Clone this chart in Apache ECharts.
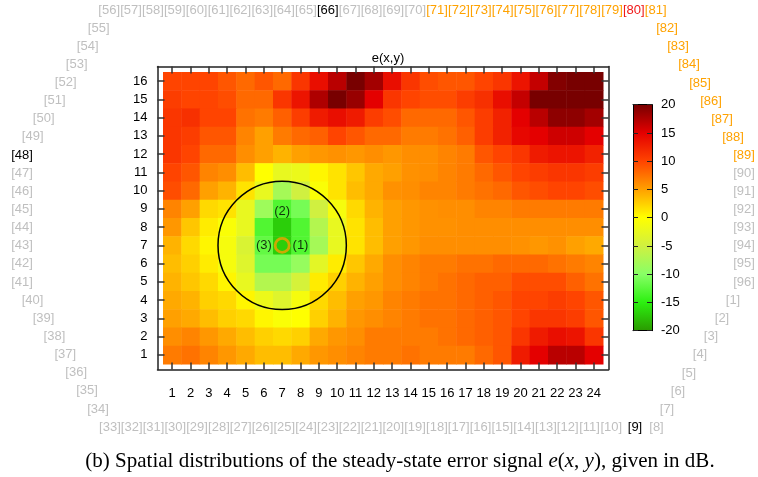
<!DOCTYPE html>
<html>
<head>
<meta charset="utf-8">
<script src="https://cdn.jsdelivr.net/npm/echarts@6/dist/echarts.min.js"></script>
<style>
  html, body { margin: 0; padding: 0; background: #fff; }
  #chart { width: 758px; height: 477px; }
</style>
</head>
<body>
<div id="chart"></div>
<script>
// tick labels
const xTicks = [1, 2, 3, 4, 5, 6, 7, 8, 9, 10, 11, 12, 13, 14, 15, 16, 17, 18, 19, 20, 21, 22, 23, 24];
const yTicks = [1, 2, 3, 4, 5, 6, 7, 8, 9, 10, 11, 12, 13, 14, 15, 16];

// e(x,y) in dB, rows listed from y = 16 (top) down to y = 1
const errorRows = [
  [10, 10, 10, 9, 8, 9, 8, 11, 14, 17, 20, 18, 14, 11, 9.5, 9, 9, 10, 11, 13.5, 16.5, 19.5, 20, 20],
  [10.5, 10, 10, 9.5, 8, 8, 11, 13.5, 17.5, 20, 18.5, 15, 11, 10, 9.5, 9.5, 10.5, 11.5, 14, 16.5, 20, 20, 20, 20],
  [11, 11.5, 10, 10, 7.5, 7, 8.5, 10.5, 13, 14, 13, 10.5, 9.5, 8, 8, 8, 9, 10.5, 12.5, 15, 17, 19, 19, 18],
  [11, 10.5, 9, 9, 6.5, 5, 7, 8, 8.5, 10, 9, 8, 8, 7, 7, 7.5, 8.5, 10.5, 12.5, 14.5, 15, 16, 16, 15],
  [11, 10, 8, 8, 6, 5, 4, 5, 5.5, 5.8, 5.5, 6, 5.5, 6, 6, 6.5, 7, 9, 10, 11, 13, 13.5, 13.5, 12.5],
  [10, 9, 6.5, 6, 3.5, 0, -2.5, -2, 0.5, 1.5, 3, 4.5, 5, 5.8, 6, 6.5, 7, 8, 9, 10, 10.5, 11, 11, 10.5],
  [9.5, 8, 5, 4, 1.5, -2.5, -8, -5, -0.5, 1.5, 3.5, 4.5, 5.8, 6, 6.5, 6.5, 7, 7.5, 8, 9, 9.5, 10, 10, 9.5],
  [6.5, 5, 2, 1.5, -2.5, -8.5, -13, -11, -5, -1, 2, 4, 5, 5.5, 5.8, 6, 6, 6.5, 6.5, 7, 7, 7, 7, 7],
  [5.5, 3, 1, -0.5, -2.5, -13, -17, -13, -7, -2.5, 1.5, 3.5, 5, 5.5, 5.8, 5.8, 6, 6, 6, 6, 6, 6, 6, 6],
  [4, 2, 0.5, -1, -4, -12, -17, -13, -8, -2.5, 1.5, 3.5, 5, 5.5, 6, 6, 6, 6, 6, 5.8, 5.5, 5.8, 5, 4.5],
  [3.5, 2.5, 1, -1, -3.5, -11, -11, -9, -3, 1, 3, 4.5, 6, 6.5, 7, 7, 7.5, 7.5, 8, 8, 8, 7.5, 7, 6.5],
  [4, 3, 2, 0.5, -2.5, -7, -7, -4.5, 1, 2.5, 4, 5, 6, 6.5, 7, 7.5, 8, 8.5, 8.5, 9.5, 9.5, 9.5, 8.5, 7.5],
  [4.5, 4, 2.5, 2, 0.5, -2, -3.5, -1, 2, 3.5, 5, 5.5, 6.5, 7, 7.5, 7.5, 8, 8.5, 9, 10, 10, 10.5, 10, 9],
  [5, 4.5, 3.5, 2.5, 2, 0.5, -0.5, 0, 2.5, 4, 5.5, 6, 6.5, 7, 7.5, 7.5, 8, 8.5, 9, 10, 11, 11, 10.5, 9],
  [6, 6.5, 5.5, 4.5, 3.5, 2.5, 2, 2.5, 4.5, 5.5, 6, 7, 7, 7, 7, 7.5, 8, 8.5, 9, 11, 13, 14, 13.5, 11],
  [7, 7.5, 6.5, 5.5, 4.5, 3.5, 3.5, 4.5, 5.5, 6, 6.5, 7, 7, 7.5, 7, 7, 7, 8, 9, 13, 15, 17, 17, 15]
];

// colour scale, evenly spaced from -20 to 20 dB
const scaleMin = -20;
const scaleMax = 20;
const palette = ['#2a9a00', '#2cf010', '#88ff66', '#d0f040', '#ffff00', '#ffa000', '#ff4400', '#e40000', '#780000'];

// zone circle, control point, point labels
const zoneCircle = [7, 7, 3.5];
const controlPoint = [7, 7];
const pointLabels = [
  { name: '(1)', value: [8, 7] },
  { name: '(2)', value: [7, 8.85] },
  { name: '(3)', value: [6, 7] }
];

// loudspeaker index labels around the plot
const orangeIds = [71, 72, 73, 74, 75, 76, 77, 78, 79, 81, 82, 83, 84, 85, 86, 87, 88, 89];
const redIds = [80];
const blackIds = [9, 48, 66];

const heatData = [];
errorRows.forEach(function (row, i) {
  row.forEach(function (v, j) {
    heatData.push([j + 1, 16 - i, v]);
  });
});

function speakerPos(n) {
  if (n <= 7) return [733 - (n - 1) * 11, 300.4 + (n - 1) * 18.14];
  if (n === 8) return [656.5, 427];
  if (n === 9) return [635, 427];
  if (n <= 33) return [611.3 - (n - 10) * 21.8, 427];
  if (n <= 40) return [98 - (n - 34) * 10.9, 409 - (n - 34) * 18.14];
  if (n <= 48) return [22, 155 + (48 - n) * 18.14];
  if (n <= 55) return [32.7 + (n - 49) * 11, 155 - (n - 48) * 18.14];
  if (n <= 81) return [109.2 + (n - 56) * 21.86, 10.5];
  if (n <= 88) return [667 + (n - 82) * 11, 28.6 + (n - 82) * 18.14];
  return [744, 155 + (n - 89) * 18.14];
}

const speakerLabels = [];
for (let n = 1; n <= 96; n++) {
  let color = '#bfbfbf';
  if (orangeIds.indexOf(n) >= 0) color = '#ffa200';
  if (redIds.indexOf(n) >= 0) color = '#f01818';
  if (blackIds.indexOf(n) >= 0) color = '#000';
  const p = speakerPos(n);
  speakerLabels.push({
    type: 'text',
    x: p[0],
    y: p[1],
    silent: true,
    style: {
      text: '[' + n + ']',
      fill: color,
      fontSize: 13,
      fontFamily: 'Liberation Sans',
      textAlign: 'center',
      textVerticalAlign: 'middle',
      verticalAlign: 'middle'
    }
  });
}

const chart = echarts.init(document.getElementById('chart'));

const frameLine = { show: true, onZero: false, lineStyle: { color: '#222', width: 1.5 } };
const frameTick = { show: true, inside: true, length: 7, customValues: null, lineStyle: { color: '#333', width: 1.5 } };
const tickFont = { fontSize: 13, color: '#000', fontFamily: 'Liberation Sans' };

const option = {
  animation: false,
  backgroundColor: '#fff',
  textStyle: { fontFamily: 'Liberation Sans' },
  title: [
    {
      text: 'e(x,y)',
      left: 383,
      top: 47,
      textAlign: 'center',
      textStyle: { fontSize: 13, fontWeight: 'normal', color: '#000' }
    },
    {
      text: '(b) Spatial distributions of the steady-state error signal {i|e}({i|x}, {i|y}), given in dB.',
      left: 395,
      top: 446,
      textAlign: 'center',
      textStyle: {
        fontSize: 21, fontWeight: 'normal', color: '#000', fontFamily: 'Liberation Serif',
        rich: { i: { fontSize: 21, fontStyle: 'italic', fontFamily: 'Liberation Serif', color: '#000' } }
      }
    }
  ],
  grid: [
    { left: 157.5, top: 66.5, width: 451, height: 303, outerBoundsMode: 'none' },
    { left: 633, top: 104.7, width: 19, height: 226, outerBoundsMode: 'none' }
  ],
  xAxis: [
    {
      gridIndex: 0, type: 'value', min: 0.2, max: 24.8, position: 'bottom', z: 10,
      axisLine: frameLine,
      axisTick: Object.assign({}, frameTick, { customValues: xTicks }),
      axisLabel: Object.assign({ customValues: xTicks, margin: 17 }, tickFont),
      splitLine: { show: false }
    },
    {
      gridIndex: 0, type: 'value', min: 0.2, max: 24.8, position: 'top', z: 10,
      axisLine: frameLine,
      axisTick: Object.assign({}, frameTick, { customValues: xTicks }),
      axisLabel: { show: false },
      splitLine: { show: false }
    },
    {
      gridIndex: 1, type: 'value', min: 0, max: 1, position: 'bottom', z: 10,
      axisLine: { show: true, onZero: false, lineStyle: { color: '#000', width: 1 } },
      axisTick: { show: false }, axisLabel: { show: false }, splitLine: { show: false }
    },
    {
      gridIndex: 1, type: 'value', min: 0, max: 1, position: 'top', z: 10,
      axisLine: { show: true, onZero: false, lineStyle: { color: '#000', width: 1 } },
      axisTick: { show: false }, axisLabel: { show: false }, splitLine: { show: false }
    }
  ],
  yAxis: [
    {
      gridIndex: 0, type: 'value', min: 0.2, max: 16.8, position: 'left', z: 10,
      axisLine: frameLine,
      axisTick: Object.assign({}, frameTick, { customValues: yTicks }),
      axisLabel: Object.assign({ customValues: yTicks, margin: 10 }, tickFont),
      splitLine: { show: false }
    },
    {
      gridIndex: 0, type: 'value', min: 0.2, max: 16.8, position: 'right', z: 10,
      axisLine: frameLine,
      axisTick: Object.assign({}, frameTick, { customValues: yTicks }),
      axisLabel: { show: false },
      splitLine: { show: false }
    },
    {
      gridIndex: 1, type: 'value', min: scaleMin, max: scaleMax, interval: 5, position: 'right', z: 10,
      axisLine: { show: true, onZero: false, lineStyle: { color: '#000', width: 1 } },
      axisTick: { show: true, inside: true, length: 5, lineStyle: { color: '#222', width: 1 } },
      axisLabel: Object.assign({ margin: 9 }, tickFont),
      splitLine: { show: false }
    },
    {
      gridIndex: 1, type: 'value', min: scaleMin, max: scaleMax, interval: 5, position: 'left', z: 10,
      axisLine: { show: true, onZero: false, lineStyle: { color: '#000', width: 1 } },
      axisTick: { show: true, inside: true, length: 5, lineStyle: { color: '#222', width: 1 } },
      axisLabel: { show: false },
      splitLine: { show: false }
    }
  ],
  visualMap: {
    type: 'continuous',
    show: false,
    min: scaleMin,
    max: scaleMax,
    dimension: 2,
    seriesIndex: 0,
    inRange: { color: palette }
  },
  series: [
    {
      type: 'custom',
      xAxisIndex: 0,
      yAxisIndex: 0,
      data: heatData,
      encode: { x: 0, y: 1 },
      renderItem: function (params, api) {
        const p = api.coord([api.value(0) - 0.5, api.value(1) + 0.5]);
        const s = api.size([1, 1]);
        return {
          type: 'rect',
          shape: { x: p[0], y: p[1], width: s[0] + 0.5, height: s[1] + 0.5 },
          style: { fill: api.visual('color') }
        };
      }
    },
    {
      type: 'custom',
      xAxisIndex: 0,
      yAxisIndex: 0,
      z: 3,
      data: [zoneCircle],
      encode: { x: 0, y: 1 },
      renderItem: function (params, api) {
        const c = api.coord([api.value(0), api.value(1)]);
        const r = api.size([api.value(2), 0])[0];
        return {
          type: 'circle',
          shape: { cx: c[0], cy: c[1], r: r },
          style: { fill: 'none', stroke: '#000', lineWidth: 1.5 }
        };
      }
    },
    {
      type: 'scatter',
      xAxisIndex: 0,
      yAxisIndex: 0,
      z: 4,
      symbol: 'circle',
      symbolSize: 14,
      itemStyle: { color: 'rgba(0,0,0,0)', borderColor: '#f5a000', borderWidth: 2.8 },
      data: [controlPoint]
    },
    {
      type: 'scatter',
      xAxisIndex: 0,
      yAxisIndex: 0,
      z: 5,
      symbolSize: 0,
      label: {
        show: true,
        position: 'inside',
        formatter: '{b}',
        fontSize: 13,
        color: '#000',
        fontFamily: 'Liberation Sans'
      },
      data: pointLabels
    },
    {
      type: 'custom',
      xAxisIndex: 2,
      yAxisIndex: 2,
      data: [[0, scaleMin, 1, scaleMax]],
      renderItem: function (params, api) {
        const p0 = api.coord([api.value(0), api.value(3)]);
        const p1 = api.coord([api.value(2), api.value(1)]);
        const stops = palette.map(function (c, i) {
          return { offset: 1 - i / (palette.length - 1), color: c };
        }).reverse();
        return {
          type: 'rect',
          shape: { x: p0[0], y: p0[1], width: p1[0] - p0[0], height: p1[1] - p0[1] },
          style: { fill: new echarts.graphic.LinearGradient(0, 0, 0, 1, stops) }
        };
      }
    }
  ],
  graphic: speakerLabels
};

chart.setOption(option);
window.addEventListener('resize', function () {
  chart.resize();
});
</script>
</body>
</html>
